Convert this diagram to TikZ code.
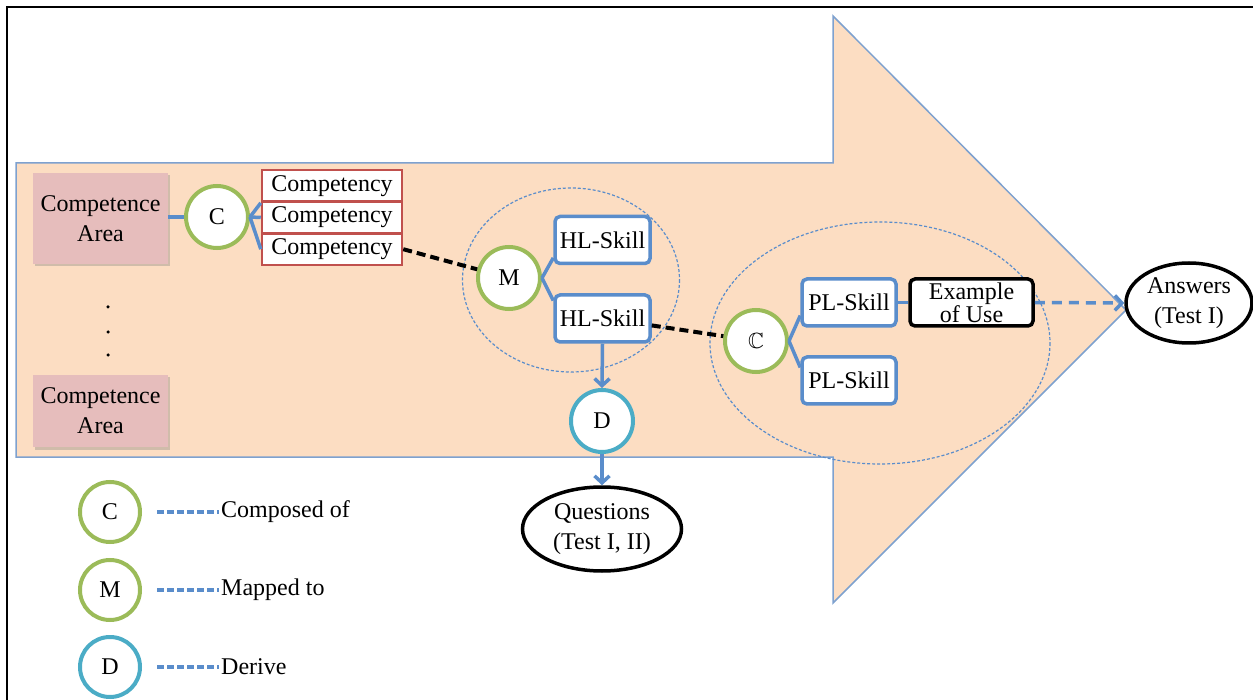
\documentclass[tikz,border=0pt]{standalone}
\usepackage{fontspec}
\setmainfont{Liberation Serif}
\usepackage{amssymb}
\usetikzlibrary{arrows.meta,shadows,calc,shapes.geometric}
\definecolor{peach}{HTML}{FCDDC2}
\definecolor{arrowline}{HTML}{7EA1CF}
\definecolor{capink}{HTML}{E6BDBC}
\definecolor{compred}{HTML}{C0504D}
\definecolor{skillblue}{HTML}{5A8DCB}
\definecolor{cgreen}{HTML}{9BBB59}
\definecolor{dcyan}{HTML}{4BACC6}
\tikzset{
  cabox/.style={fill=capink, draw=none, minimum width=135pt, align=center, inner sep=0pt,
    drop shadow={shadow xshift=1.5pt, shadow yshift=-2.5pt, opacity=0.35, fill=gray}},
  compbox/.style={draw=compred, line width=2.5pt, fill=white, minimum width=140pt, minimum height=31.7pt, inner sep=0pt},
  skill/.style={draw=skillblue, line width=3.5pt, fill=white, rounded corners=5pt, minimum width=95pt, minimum height=47pt, inner sep=0pt},
  gcirc/.style={circle, draw=cgreen, line width=4pt, fill=white, minimum size=62pt, inner sep=0pt},
  dcirc/.style={circle, draw=dcyan, line width=4pt, fill=white, minimum size=62pt, inner sep=0pt},
  oval/.style={ellipse, draw=black, line width=3.5pt, fill=white, align=center, inner sep=0pt},
  link/.style={draw=skillblue, line width=3.5pt},
  linkarrow/.style={draw=skillblue, line width=3.5pt, -{Straight Barb[length=7pt,width=15pt]}},
  blackdash/.style={line width=4pt, dash pattern=on 9pt off 5pt},
  legdash/.style={draw=skillblue, line width=3.5pt, dash pattern=on 7pt off 3pt},
  region/.style={draw=skillblue, line width=1.2pt, dash pattern=on 3pt off 2pt},
  legtext/.style={anchor=west, inner sep=2pt},
  dotmark/.style={circle, fill=black, inner sep=0pt, minimum size=3.5pt}
}
\begin{document}
\begin{tikzpicture}[x=1pt,y=-1pt,font=\fontsize{24}{30}\selectfont]
\useasboundingbox (0,0) rectangle (1253,700);
% frame
\draw[line width=2.5pt] (7,712) -- (7,7) -- (1265,7);
% big arrow
\draw[fill=peach, draw=arrowline, line width=1.5pt]
  (16,163) -- (833,163) -- (833,16) -- (1126,310) -- (833,603) -- (833,457) -- (16,457) -- cycle;
% dashed regions
\draw[region] (571,280) ellipse [x radius=108.5, y radius=92];
\draw[region] (880,343) ellipse [x radius=170, y radius=121];
% competence areas
\node[cabox, minimum height=91pt] (ca1) at (100.5,218.5) {Competence\\Area};
\node[cabox, minimum height=72pt] (ca2) at (100.5,411) {Competence\\Area};
\node[dotmark] (d1) at (108,307) {};
\node[dotmark] (d2) at (108,332) {};
\node[dotmark] (d3) at (108,355) {};
% C circle and competencies
\node[gcirc] (c1) at (217,217) {C};
\node[compbox] (comp1) at (332,185.8) {Competency};
\node[compbox] (comp2) at (332,217.5) {Competency};
\node[compbox] (comp3) at (332,249.2) {Competency};
\draw[link] (ca1.east |- c1) -- (c1);
\draw[link] (c1.east) -- (comp1.south west);
\draw[link] (c1.east) -- (comp2.west);
\draw[link] (c1.east) -- (comp3.west);
% M and HL skills
\node[gcirc] (m) at (509,278) {M};
\node[skill] (hl1) at (602.5,240) {HL-Skill};
\node[skill] (hl2) at (602.5,318.5) {HL-Skill};
\draw[link] (m.east) -- (hl1.200);
\draw[link] (m.east) -- (hl2.160);
\draw[blackdash] (comp3.east) -- (m);
% D and questions
\node[dcirc] (d) at (602,421) {D};
\node[oval, minimum width=159pt, minimum height=84pt] (q) at (602,529) {Questions\\(Test I, II)};
\draw[linkarrow] (hl2.south) -- (d.north);
\draw[linkarrow] (d.south) -- (q.north);
% C2 and PL skills
\node[gcirc] (c2) at (756,341) {\fontsize{22}{24}\selectfont$\mathbb{C}$};
\node[skill, minimum width=94pt] (pl1) at (849,302.5) {PL-Skill};
\node[skill, minimum width=94pt] (pl2) at (849,380.5) {PL-Skill};
\draw[link] (c2.east) -- (pl1.195);
\draw[link] (c2.east) -- (pl2.165);
\draw[blackdash] (hl2.352) -- (c2);
\node[draw=black, line width=3.5pt, fill=white, rounded corners=5pt, minimum width=123pt, minimum height=47pt, inner sep=0pt, align=center, font=\fontsize{24}{20}\selectfont] (ex) at (971.5,302.5) {Example\\of Use};
\draw[link] (pl1.east) -- (ex.west);
\node[oval, minimum width=126pt, minimum height=80pt] (ans) at (1189,303) {Answers\\(Test I)};
\draw[draw=skillblue, line width=3.5pt, dash pattern=on 10pt off 7pt, -{Straight Barb[length=7pt,width=15pt]}] (ex.east) -- (ans.west);
% legend
\node[gcirc, minimum size=60pt] (lc) at (110,512) {C};
\node[gcirc, minimum size=60pt] (lm) at (110,590) {M};
\node[dcirc, minimum size=60pt] (ld) at (110,667) {D};
\node[legtext] (lct) at (219,512) {Composed of};
\node[legtext] (lmt) at (219,590) {Mapped to};
\node[legtext] (ldt) at (219,667) {Derive};
\draw[legdash] ($(lc.east)+(15,0)$) -- (lct.west);
\draw[legdash] ($(lm.east)+(15,0)$) -- (lmt.west);
\draw[legdash] ($(ld.east)+(15,0)$) -- (ldt.west);
\end{tikzpicture}
\end{document}
